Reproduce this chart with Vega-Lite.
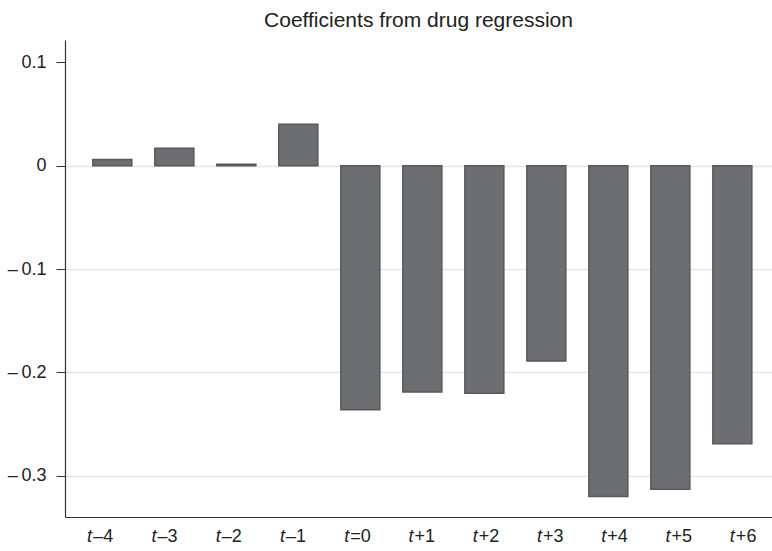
{
  "$schema": "https://vega.github.io/schema/vega-lite/v6.json",
  "width": 707,
  "height": 477,
  "autosize": "none",
  "padding": {"left": 65, "top": 40, "right": 0, "bottom": 34},
  "title": {
    "text": "Coefficients from drug regression",
    "font": "Liberation Sans",
    "fontSize": 21,
    "fontWeight": "normal",
    "color": "#222222",
    "anchor": "middle",
    "offset": 9
  },
  "config": {"view": {"stroke": null}, "font": "Liberation Sans"},
  "data": {
    "values": [
      {"label": "t–4", "t": "t", "suffix": "–4", "coef": 0.006},
      {"label": "t–3", "t": "t", "suffix": "–3", "coef": 0.017},
      {"label": "t–2", "t": "t", "suffix": "–2", "coef": 0.0015},
      {"label": "t–1", "t": "t", "suffix": "–1", "coef": 0.040},
      {"label": "t=0", "t": "t", "suffix": "=0", "coef": -0.236},
      {"label": "t+1", "t": "t", "suffix": "+1", "coef": -0.219},
      {"label": "t+2", "t": "t", "suffix": "+2", "coef": -0.220},
      {"label": "t+3", "t": "t", "suffix": "+3", "coef": -0.189},
      {"label": "t+4", "t": "t", "suffix": "+4", "coef": -0.320},
      {"label": "t+5", "t": "t", "suffix": "+5", "coef": -0.313},
      {"label": "t+6", "t": "t", "suffix": "+6", "coef": -0.269}
    ]
  },
  "resolve": {"scale": {"x": "independent"}, "axis": {"x": "independent"}},
  "layer": [
    {
      "mark": {"type": "bar", "fill": "#6d6e72", "stroke": "#57585b", "strokeWidth": 1.5},
      "encoding": {
        "x": {
          "field": "label",
          "type": "nominal",
          "sort": null,
          "scale": {"paddingInner": 0.371, "paddingOuter": 0.387, "align": 0.58},
          "axis": {"labels": false, "ticks": false, "grid": false, "title": null, "domainColor": "#333333", "domainWidth": 1.2}
        },
        "y": {
          "field": "coef",
          "type": "quantitative",
          "scale": {"domain": [-0.3398, 0.1216], "nice": false},
          "axis": {
            "values": [0.1, 0, -0.1, -0.2, -0.3],
            "labelExpr": "datum.value < 0 ? '–\u2009' + format(-datum.value, '~g') : format(datum.value, '~g')",
            "title": null,
            "tickSize": 9,
            "tickColor": "#333333",
            "domainColor": "#333333",
            "domainWidth": 1.2,
            "labelPadding": 10,
            "labelFontSize": 18,
            "labelColor": "#222222",
            "grid": true,
            "gridWidth": 1.5,
            "gridColor": {"condition": {"test": "datum.value > 0.05", "value": "transparent"}, "value": "#e6e6e6"}
          }
        }
      }
    },
    {
      "mark": {"type": "text", "fontStyle": "italic", "fontSize": 18, "align": "right", "baseline": "top", "dx": -5, "dy": 11, "color": "#222222"},
      "encoding": {
        "x": {"field": "label", "type": "nominal", "sort": null, "scale": {"paddingInner": 0, "paddingOuter": 0}, "axis": null},
        "y": {"datum": -0.3398, "type": "quantitative"},
        "text": {"field": "t"}
      }
    },
    {
      "mark": {"type": "text", "fontSize": 18, "align": "left", "baseline": "top", "dx": -4, "dy": 11, "color": "#222222"},
      "encoding": {
        "x": {"field": "label", "type": "nominal", "sort": null, "scale": {"paddingInner": 0, "paddingOuter": 0}, "axis": null},
        "y": {"datum": -0.3398, "type": "quantitative"},
        "text": {"field": "suffix"}
      }
    }
  ]
}
